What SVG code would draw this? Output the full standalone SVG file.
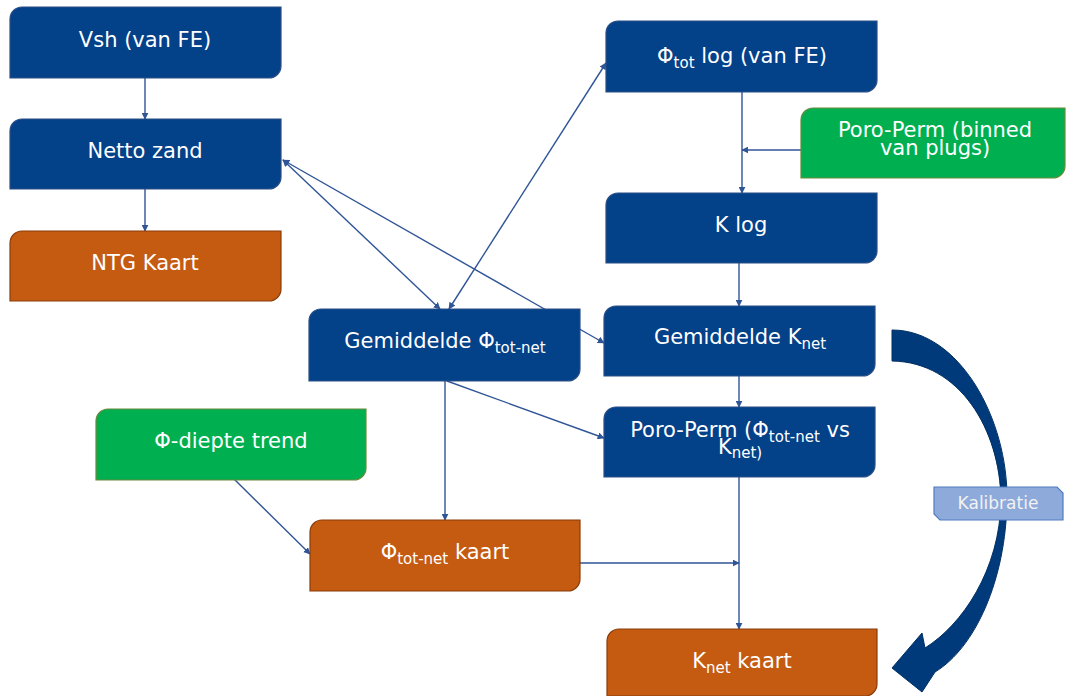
<svg xmlns="http://www.w3.org/2000/svg" width="1066" height="696" viewBox="0 0 1066 696">
<defs>
<style>
.blue{fill:#034189;stroke:#2A4F86;stroke-width:1.2}
.orange{fill:#C55A11;stroke:#8A3D0B;stroke-width:1.2}
.green{fill:#00B050;stroke:#6B8A3A;stroke-width:1.2}
.t{font-family:"DejaVu Sans",sans-serif;font-size:21px;fill:#FFFFFF;text-anchor:middle}
.s{font-size:15px}
.c{stroke:#2F5597;stroke-width:1.4;fill:none}
.ce{marker-end:url(#ah)}
.cb{marker-start:url(#as);marker-end:url(#ah)}
</style>
<marker id="ah" viewBox="0 0 10 10" refX="9" refY="5" markerWidth="7" markerHeight="7" markerUnits="userSpaceOnUse" orient="auto"><path d="M0,0 L10,5 L0,10 Z" fill="#2F5597"/></marker>
<marker id="as" viewBox="0 0 10 10" refX="1" refY="5" markerWidth="7" markerHeight="7" markerUnits="userSpaceOnUse" orient="auto"><path d="M10,0 L0,5 L10,10 Z" fill="#2F5597"/></marker>
</defs>
<rect width="1066" height="696" fill="#FFFFFF"/>
<g id="connectors">
<line class="c ce" x1="145" y1="78" x2="145" y2="119"/>
<line class="c ce" x1="145" y1="189" x2="145" y2="231"/>
<line class="c ce" x1="742" y1="92" x2="742" y2="193"/>
<line class="c ce" x1="801" y1="150" x2="742" y2="150"/>
<line class="c ce" x1="739" y1="263" x2="739" y2="306"/>
<line class="c ce" x1="739" y1="376" x2="739" y2="407"/>
<line class="c ce" x1="739" y1="477" x2="739" y2="629"/>
<line class="c ce" x1="580" y1="563" x2="739" y2="563"/>
<line class="c cb" x1="440" y1="309" x2="283" y2="160"/>
<line class="c cb" x1="604" y1="343" x2="283" y2="160"/>
<line class="c cb" x1="449" y1="309" x2="606" y2="63"/>
<line class="c ce" x1="447" y1="381" x2="604" y2="438"/>
<line class="c ce" x1="445" y1="381" x2="445" y2="520"/>
<line class="c ce" x1="232" y1="477" x2="310" y2="554"/>
</g>
<g id="kalibratie-arrow">
<path d="M892,330 C960,330 1008,420 1007,500 C1006,580 975,648 935,672 L922,692 L892,668 L922,633 L925,648 C962,625 1000,570 1001,500 C1000,430 960,362 892,361 Z" fill="#003A7A" stroke="#002F63" stroke-width="1"/>
</g>
<g id="vsh">
<path class="blue" d="M22,7 H281 V66 A12,12 0 0 1 269,78 H10 V19 A12,12 0 0 1 22,7 Z"/>
<text class="t" x="145" y="47">Vsh (van FE)</text>
</g>
<g id="netto-zand">
<path class="blue" d="M22,119 H281 V177 A12,12 0 0 1 269,189 H10 V131 A12,12 0 0 1 22,119 Z"/>
<text class="t" x="145" y="158">Netto zand</text>
</g>
<g id="ntg-kaart">
<path class="orange" d="M22,231 H281 V289 A12,12 0 0 1 269,301 H10 V243 A12,12 0 0 1 22,231 Z"/>
<text class="t" x="145" y="270">NTG Kaart</text>
</g>
<g id="phi-tot-log">
<path class="blue" d="M618,21 H877 V80 A12,12 0 0 1 865,92 H606 V33 A12,12 0 0 1 618,21 Z"/>
<text class="t" x="742" y="63">Φ<tspan class="s" dy="5">tot</tspan><tspan dy="-5"> log (van FE)</tspan></text>
</g>
<g id="poro-perm-binned">
<path class="green" d="M813,108 H1065 V166 A12,12 0 0 1 1053,178 H801 V120 A12,12 0 0 1 813,108 Z"/>
<text class="t" x="935" y="137">Poro-Perm (binned</text>
<text class="t" x="935" y="155">van plugs)</text>
</g>
<g id="k-log">
<path class="blue" d="M618,193 H877 V251 A12,12 0 0 1 865,263 H606 V205 A12,12 0 0 1 618,193 Z"/>
<text class="t" x="741" y="232">K log</text>
</g>
<g id="gem-phi">
<path class="blue" d="M321,309 H580 V369 A12,12 0 0 1 568,381 H309 V321 A12,12 0 0 1 321,309 Z"/>
<text class="t" x="445" y="348">Gemiddelde Φ<tspan class="s" dy="5">tot-net</tspan></text>
</g>
<g id="gem-k">
<path class="blue" d="M616,306 H875 V364 A12,12 0 0 1 863,376 H604 V318 A12,12 0 0 1 616,306 Z"/>
<text class="t" x="740" y="344">Gemiddelde K<tspan class="s" dy="5">net</tspan></text>
</g>
<g id="poro-perm-phi">
<path class="blue" d="M616,407 H875 V465 A12,12 0 0 1 863,477 H604 V419 A12,12 0 0 1 616,407 Z"/>
<text class="t" x="740" y="437">Poro-Perm (Φ<tspan class="s" dy="5">tot-net</tspan><tspan dy="-5"> vs</tspan></text>
<text class="t" x="740" y="454">K<tspan class="s" dy="4">net)</tspan></text>
</g>
<g id="phi-diepte">
<path class="green" d="M108,409 H366 V468 A12,12 0 0 1 354,480 H96 V421 A12,12 0 0 1 108,409 Z"/>
<text class="t" x="231" y="448">Φ-diepte trend</text>
</g>
<g id="phi-kaart">
<path class="orange" d="M322,520 H580 V579 A12,12 0 0 1 568,591 H310 V532 A12,12 0 0 1 322,520 Z"/>
<text class="t" x="445" y="559">Φ<tspan class="s" dy="5">tot-net</tspan><tspan dy="-5"> kaart</tspan></text>
</g>
<g id="knet-kaart">
<path class="orange" d="M619,629 H877 V684 A12,12 0 0 1 865,696 H607 V641 A12,12 0 0 1 619,629 Z"/>
<text class="t" x="742" y="668">K<tspan class="s" dy="5">net</tspan><tspan dy="-5"> kaart</tspan></text>
</g>
<g id="kalibratie-label">
<path d="M934,487 H1057 L1063,493 V520 H940 L934,514 Z" fill="#8EAADB" stroke="#4F7CC0" stroke-width="1.2"/>
<text x="998" y="509" font-family="DejaVu Sans, sans-serif" font-size="17" fill="#F2F2F2" text-anchor="middle">Kalibratie</text>
</g>
</svg>
